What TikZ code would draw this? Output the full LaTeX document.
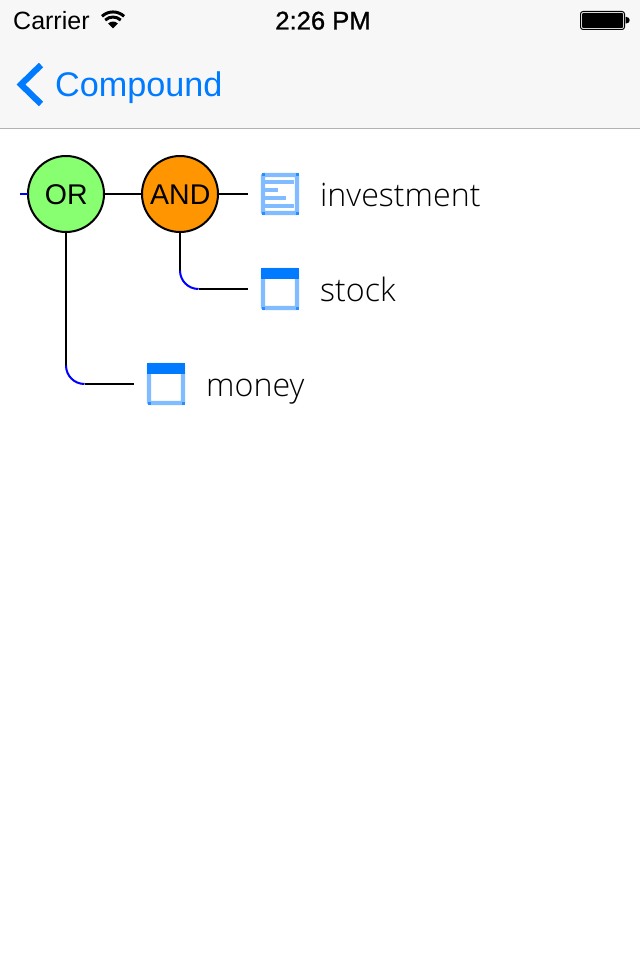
\documentclass[tikz,border=0pt]{standalone}
\usepackage{fontspec}
\setmainfont{Liberation Sans}
\newfontfamily\mediumfont[FakeBold=1]{Liberation Sans}
\newfontfamily\lightfont{Open Sans Light}
\definecolor{iosblue}{HTML}{007AFF}
\definecolor{iconlight}{HTML}{80BCFF}
\definecolor{barbg}{HTML}{F7F7F7}
\definecolor{barline}{HTML}{B2B2B2}
\definecolor{orfill}{HTML}{88FF70}
\definecolor{andfill}{HTML}{FF9500}
\tikzset{
  gate/.style={circle,draw=black,line width=2pt,minimum size=76pt,inner sep=0pt,outer sep=0pt},
  gatetext/.style={inner sep=0pt,font=\fontsize{28.5}{28.5}\selectfont},
  conn/.style={black,line width=2pt},
  connarc/.style={blue,line width=2pt},
  iconbox/.style={draw=iconlight,line width=4.4pt,rounded corners=1pt,minimum width=34pt,minimum height=38pt,inner sep=0pt,outer sep=0pt},
  iconline/.style={iconlight,line width=3.6pt},
  iconbar/.style={fill=iosblue,draw=none},
  corner/.style={fill=iosblue!70!iconlight,draw=none},
  label/.style={anchor=base west,inner sep=0pt,font=\lightfont\fontsize{32.2}{32.2}\selectfont},
  status/.style={anchor=base west,inner sep=0pt,font=\fontsize{25}{25}\selectfont},
}
\begin{document}
\begin{tikzpicture}[x=1pt,y=-1pt]
\useasboundingbox (0,0) rectangle (640,960);
\fill[white] (0,0) rectangle (640,960);
\fill[barbg] (0,0) rectangle (640,128);
\draw[barline,line width=1pt] (0,128.5) -- (640,128.5);
% status bar
\node[status] (carrier) at (13,29.5) {Carrier};
\node[status,anchor=base,font=\mediumfont\fontsize{25.6}{25.6}\selectfont] (clock) at (323,29.5) {2:26 PM};
\begin{scope}[shift={(113,28.5)}]
\fill[black] (0,0) -- (-4.8,-5) arc[start angle=225,end angle=315,radius=6.8] -- cycle;
\draw[black,line width=3pt] (-7.8,-8.4) arc[start angle=227,end angle=313,radius=11.4];
\draw[black,line width=3pt] (-11,-12.2) arc[start angle=227,end angle=313,radius=16.2];
\end{scope}
\draw[black,line width=1pt,rounded corners=2.5pt] (580.5,11.5) rectangle (624.5,29.5);
\fill[black,rounded corners=1pt] (582,13) rectangle (623,28);
\fill[black] (625.5,17) -- (626.5,17) arc[start angle=-90,end angle=90,radius=3.2] -- (625.5,23.4) -- cycle;
% navigation bar
\draw[iosblue,line width=6.2pt,line cap=butt,miter limit=10] (41,65) -- (21,84.5) -- (41,104);
\node[anchor=base west,inner sep=0pt,text=iosblue,font=\fontsize{34.2}{34.2}\selectfont] (back) at (55,96.5) {Compound};
% gates
\node[gate,fill=orfill] (or) at (66,194) {};
\node[gate,fill=andfill] (and) at (180,194) {};
\node[gatetext] (ortext) at (66.3,194.8) {OR};
\node[gatetext] (andtext) at (180.3,194.8) {AND};
% icons
\node[iconbox] (inv) at (280,194) {};
\node[iconbox] (stock) at (280,289) {};
\node[iconbox] (money) at (166,384) {};
% icon details
\draw[iconline] (264,182) -- (294,182);
\draw[iconline] (264,190) -- (278,190);
\draw[iconline] (264,198) -- (286,198);
\draw[iconline] (264,206) -- (294,206);
\fill[iconbar] (261,268) rectangle (299,279);
\fill[iconbar] (147,363) rectangle (185,374);
\foreach \cx/\cy in {263/175,297/175,263/213,297/213,263/308,297/308,149/403,183/403}
  \fill[corner] (\cx-1.5,\cy-1.5) rectangle (\cx+1.5,\cy+1.5);
% labels
\node[label] (tinv) at (320,206) {investment};
\node[label] (tstock) at (320,301) {stock};
\node[label] (tmoney) at (206,396) {money};
% connectors
\coordinate (rootstub) at (20,194);
\coordinate (andturn) at (180,270.5);
\coordinate (andturnend) at (198.5,289);
\coordinate (orturn) at (66,365.5);
\coordinate (orturnend) at (84.5,384);
\draw[connarc] (rootstub) -- (or.west);
\draw[conn] (or) -- (and);
\draw[conn,shorten >=15pt] (and) -- (inv);
\draw[conn] (and.south) -- (andturn);
\draw[connarc] (andturn) arc[start angle=180,end angle=90,radius=18.5];
\draw[conn,shorten >=15pt] (andturnend) -- (stock.west);
\draw[conn] (or.south) -- (orturn);
\draw[connarc] (orturn) arc[start angle=180,end angle=90,radius=18.5];
\draw[conn,shorten >=15pt] (orturnend) -- (money.west);
\end{tikzpicture}
\end{document}
